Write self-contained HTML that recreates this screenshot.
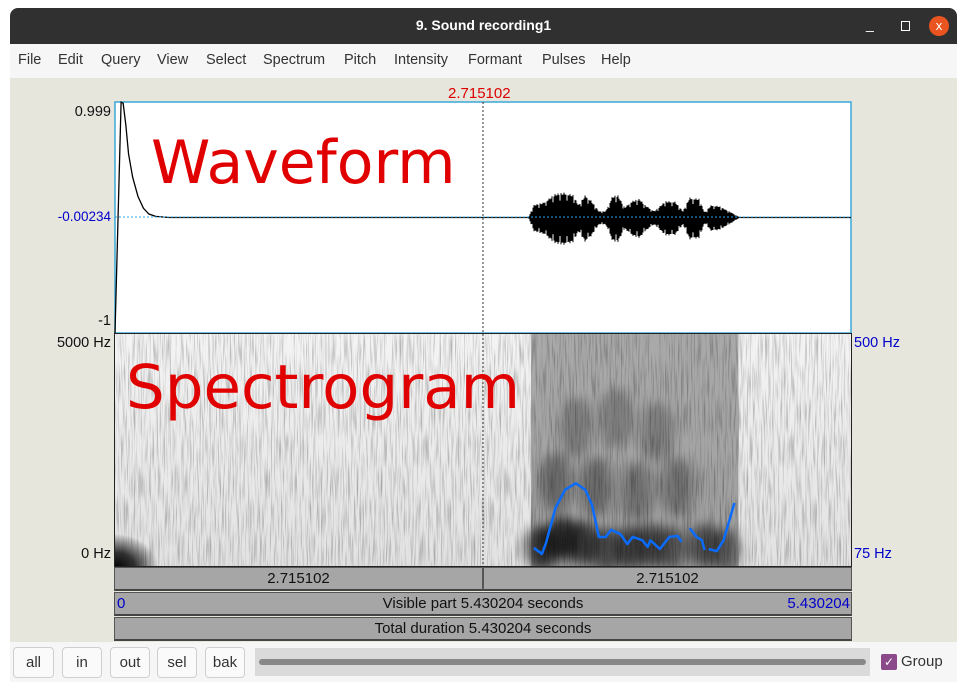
<!DOCTYPE html>
<html><head><meta charset="utf-8"><style>
body{margin:0;width:967px;height:691px;background:#fff;overflow:hidden;font-family:"Liberation Sans",sans-serif;position:relative}
.abs{position:absolute}
.menu span{position:absolute;top:0;font-size:14.5px;color:#333}
.btn{position:absolute;top:647px;height:29px;border:1px solid #cfcfcf;border-radius:4px;background:#fafafa;font-size:15px;color:#333;text-align:center;line-height:29px}
.bar{position:absolute;left:114px;width:736px;background:#a6a6a6;border:1px solid #555;border-bottom:2px solid #444;font-size:15px;text-align:center;color:#111}
.lab{position:absolute;font-size:14.5px;color:#111}
</style></head><body>
<div class="abs" style="left:10px;top:8px;width:947px;height:674px;background:#e6e6dc;border-radius:8px 8px 0 0;overflow:hidden">
 <div class="abs" style="left:0;top:0;width:947px;height:36px;background:#303030"></div>
 <div class="abs" style="left:0;top:9px;width:947px;text-align:center;color:#fff;font-weight:bold;font-size:14px">9. Sound recording1</div>
 <div class="abs" style="left:856px;top:8px;color:#fff;font-size:14px">_</div>
 <div class="abs" style="left:891px;top:13px;width:7px;height:8px;border:1.5px solid #fff"></div>
 <div class="abs" style="left:919px;top:8px;width:20px;height:20px;border-radius:10px;background:#e95420;color:#fff;font-size:13px;text-align:center;line-height:20px">x</div>
 <div class="abs menu" style="left:0;top:36px;width:947px;height:34px;background:#f6f6f6">
  <div style="position:relative;top:8px">
  <span style="left:8px">File</span>
  <span style="left:48px">Edit</span>
  <span style="left:91px">Query</span>
  <span style="left:147px">View</span>
  <span style="left:196px">Select</span>
  <span style="left:253px">Spectrum</span>
  <span style="left:334px">Pitch</span>
  <span style="left:384px">Intensity</span>
  <span style="left:458px">Formant</span>
  <span style="left:532px">Pulses</span>
  <span style="left:591px">Help</span>
  </div>
 </div>
 <div class="abs" style="left:0;top:634px;width:947px;height:40px;background:#f6f6f6"></div>
</div>
<div class="btn" style="left:13px;width:39px">all</div>
<div class="btn" style="left:62px;width:38px">in</div>
<div class="btn" style="left:110px;width:38px">out</div>
<div class="btn" style="left:157px;width:38px">sel</div>
<div class="btn" style="left:205px;width:38px">bak</div>
<div class="abs" style="left:255px;top:648px;width:615px;height:28px;background:#dadada"></div>
<div class="abs" style="left:259px;top:659px;width:607px;height:6px;border-radius:3px;background:#888"></div>
<div class="abs" style="left:881px;top:654px;width:16px;height:16px;border-radius:2px;background:#8b4a8a;color:#fff;font-size:12px;text-align:center;line-height:16px">✓</div>
<div class="abs" style="left:901px;top:653px;font-size:15px;color:#333">Group</div>

<div class="abs" style="left:448px;top:85px;color:#d00;font-size:15px">2.715102</div>
<div class="lab" style="right:856px;top:104px">0.999</div>
<div class="lab" style="right:856px;top:209px;color:#00c;font-size:13.5px">-0.00234</div>
<div class="lab" style="right:856px;top:313px">-1</div>
<div class="lab" style="right:856px;top:335px">5000 Hz</div>
<div class="lab" style="right:856px;top:546px">0 Hz</div>
<div class="lab" style="left:854px;top:335px;color:#00c">500 Hz</div>
<div class="lab" style="left:854px;top:546px;color:#00c">75 Hz</div>

<svg class="abs" style="left:0;top:0" width="967" height="691">
 <defs>
  <filter id="noise" x="0" y="0" width="100%" height="100%">
   <feTurbulence type="fractalNoise" baseFrequency="0.7 0.03" numOctaves="2" seed="3"/>
   <feColorMatrix type="matrix" values="0 0 0 0 0  0 0 0 0 0  0 0 0 0 0  0 0 0 -1.8 1.0"/>
  </filter>
  <filter id="blur"><feGaussianBlur stdDeviation="7 5"/></filter>
  <radialGradient id="corner"><stop offset="0" stop-color="#000"/><stop offset="0.45" stop-color="#111" stop-opacity="0.85"/><stop offset="1" stop-color="#000" stop-opacity="0"/></radialGradient>
  <linearGradient id="spg" x1="0" y1="0" x2="0" y2="1"><stop offset="0" stop-color="#f4f4f4"/><stop offset="1" stop-color="#e2e2e2"/></linearGradient>
  <clipPath id="specclip"><rect x="115" y="334" width="736" height="232"/></clipPath>
 </defs>
 <rect x="115" y="102" width="736" height="231" fill="#fff" stroke="#3aa9d8" stroke-width="1.5"/>
 <g clip-path="url(#specclip)">
  <rect x="115" y="334" width="736" height="232" fill="url(#spg)"/>
  <g id="specband"></g>
  <g id="specdark" filter="url(#blur)"></g>
  <rect x="115" y="334" width="736" height="232" fill="#000" filter="url(#noise)" opacity="0.38"/>
  <ellipse cx="116" cy="568" rx="42" ry="34" fill="url(#corner)"/>
 </g>
 <rect x="114.5" y="333.5" width="737" height="233" fill="none" stroke="#222"/>
 <g id="wave"></g>
 <line x1="115" y1="217" x2="851" y2="217" stroke="#2aa8e0" stroke-dasharray="2,2"/>
 <line x1="483" y1="102" x2="483" y2="566" stroke="#333" stroke-dasharray="2,2"/>
 <g id="pitch"></g>
 <text x="151" y="183" fill="#e00000" font-size="60" font-family="DejaVu Sans,sans-serif">Waveform</text>
 <text x="126" y="408" fill="#e00000" font-size="61" font-family="DejaVu Sans,sans-serif">Spectrogram</text>
</svg>

<div class="bar" style="top:567px;height:21px;width:367px;line-height:21px">2.715102</div>
<div class="bar" style="top:567px;height:21px;left:483px;width:367px;line-height:21px">2.715102</div>
<div class="bar" style="top:592px;height:21px;line-height:21px">Visible part 5.430204 seconds
 <span style="position:absolute;left:2px;color:#00c">0</span>
 <span style="position:absolute;right:1px;color:#00c">5.430204</span></div>
<div class="bar" style="top:617px;height:21px;line-height:21px">Total duration 5.430204 seconds</div>

<script>
const duration = 5.430204;
// waveform envelope (seconds, amplitude)
const envTimes = [3.05,3.09,3.16,3.25,3.32,3.38,3.42,3.47,3.51,3.57,3.62,3.67,3.71,3.76,3.81,3.87,3.91,3.98,4.06,4.13,4.19,4.24,4.31,4.35,4.40,4.46,4.53,4.58,4.61];
const envAmp   = [0.0,0.10,0.12,0.19,0.20,0.18,0.10,0.18,0.14,0.05,0.05,0.17,0.18,0.08,0.13,0.15,0.10,0.05,0.13,0.13,0.05,0.16,0.15,0.04,0.10,0.09,0.05,0.02,0.0];
// initial transient
const transTimes = [0.0,0.045,0.06,0.08,0.1,0.13,0.17,0.21,0.25,0.3,0.4];
const transAmp   = [-1.0,0.999,0.99,0.8,0.55,0.35,0.18,0.08,0.03,0.01,0.0];
// pitch contour segments (seconds, Hz)
const pitchT1 = [3.09,3.15,3.18,3.25,3.32,3.40,3.47,3.52,3.57,3.62,3.66,3.73,3.78,3.82,3.89,3.93,3.95,4.02,4.09,4.15,4.18];
const pitchF1 = [108,97,117,181,214,226,214,186,128,128,141,133,115,128,122,110,122,106,128,130,119];
const pitchT2 = [4.24,4.29,4.33,4.35];
const pitchF2 = [144,128,122,104];
const pitchT3 = [4.38,4.44,4.49,4.57];
const pitchF3 = [106,102,122,190];
// spectrogram dark energy blobs (seconds, Hz, darkness)
const blobT = [3.15,3.30,3.45,3.62,3.80,3.95,4.10,4.35,4.50,3.25,3.55,3.85,4.15,3.40,3.70,4.00];
const blobF = [400,600,500,350,400,450,400,450,350,1800,1700,1600,1700,3000,3200,2900];
const blobD = [0.7,0.7,0.6,0.5,0.55,0.5,0.45,0.5,0.4,0.35,0.35,0.3,0.3,0.25,0.25,0.25];

const NS='http://www.w3.org/2000/svg';
const X0=115,X1=851;
const xS=t=>X0+(t/duration)*(X1-X0);
const yA=a=>217.5-a*115.5;
const yHz=f=>566-(f/5000)*232;
const yP=f=>566-((f-75)/425)*233;
function interp(ts,vs,t){if(t<=ts[0]||t>=ts[ts.length-1])return 0;for(let i=1;i<ts.length;i++)if(t<=ts[i]){const r=(t-ts[i-1])/(ts[i]-ts[i-1]);return vs[i-1]+r*(vs[i]-vs[i-1]);}return 0;}

const wave=document.getElementById('wave');
const base=document.createElementNS(NS,'line');


base.setAttribute('x1',xS(0.4));base.setAttribute('x2',X1);base.setAttribute('y1',yA(0));base.setAttribute('y2',yA(0));
base.setAttribute('stroke','#111');base.setAttribute('stroke-width','1.3');
wave.appendChild(base);
const tr=document.createElementNS(NS,'polyline');


tr.setAttribute('points',transTimes.map((t,i)=>xS(t)+','+yA(transAmp[i])).join(' '));
tr.setAttribute('fill','none');tr.setAttribute('stroke','#000');tr.setAttribute('stroke-width','1.3');
wave.appendChild(tr);
let d='';
const xa=xS(envTimes[0]),xb=xS(envTimes[envTimes.length-1]);
for(let x=Math.floor(xa);x<=xb;x+=1){
 const t=(x-X0)/(X1-X0)*duration;
 const a=interp(envTimes,envAmp,t);
 const k=(x%7===0)?0.75:((x%3===0)?1.08:1);
 d+=`M${x} ${yA(a*k)}V${yA(-a*1.1*k)}`;
}
const env=document.createElementNS(NS,'path');


env.setAttribute('d',d);env.setAttribute('stroke','#000');env.setAttribute('stroke-width','1');
wave.appendChild(env);

const sd=document.getElementById('specdark');
blobT.forEach((t,i)=>{
 const e=document.createElementNS(NS,'ellipse');
 
 
 e.setAttribute('cx',xS(t));e.setAttribute('cy',yHz(blobF[i]));
 e.setAttribute('rx',16);e.setAttribute('ry',i<9?22:30);
 e.setAttribute('fill','#000');e.setAttribute('opacity',blobD[i]);
 sd.appendChild(e);
});
const band=document.createElementNS(NS,'rect');


band.setAttribute('x',xS(3.07));band.setAttribute('y',334);band.setAttribute('width',xS(4.6)-xS(3.07));band.setAttribute('height',232);
band.setAttribute('fill','#000');band.setAttribute('opacity','0.3');
document.getElementById('specband').appendChild(band);

const pg=document.getElementById('pitch');
[[pitchT1,pitchF1],[pitchT2,pitchF2],[pitchT3,pitchF3]].forEach(([ts,fs],k)=>{
 const pl=document.createElementNS(NS,'polyline');
 
 
 pl.setAttribute('points',ts.map((t,i)=>xS(t)+','+yP(fs[i])).join(' '));
 pl.setAttribute('fill','none');pl.setAttribute('stroke','#0a6cff');pl.setAttribute('stroke-width','2.5');pl.setAttribute('stroke-linejoin','round');
 pg.appendChild(pl);
});
</script>
</body></html>
